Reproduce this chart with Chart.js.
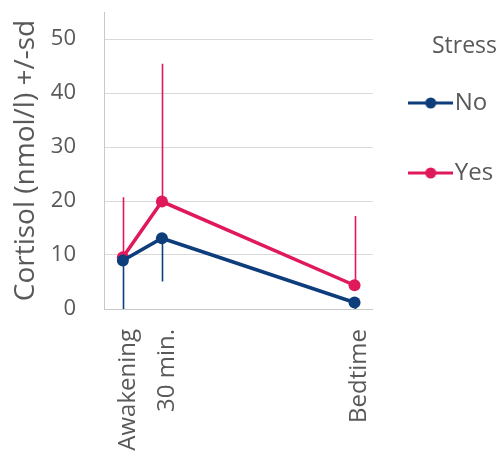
<!DOCTYPE html>
<html>
<head>
<meta charset="utf-8">
<script src="https://cdn.jsdelivr.net/npm/chart.js@4/dist/chart.umd.min.js"></script>
<style>
  html, body { margin: 0; padding: 0; background: #ffffff; }
  #wrap { width: 497px; height: 453px; position: relative; }
</style>
</head>
<body>
<div id="wrap"><canvas id="c" width="497" height="453"></canvas></div>
<script>
// ---- data ----
const categories = ['Awakening', '30 min.', 'Bedtime'];
const timePoints = [0, 30, 178];          // position of each sampling moment on the x axis
const noMean  = [9.0, 13.1, 1.2];
const noSd    = [9.5, 8.0, 2.5];
const yesMean = [9.6, 19.9, 4.4];
const yesSd   = [11.1, 25.5, 12.8];
const yTicks  = [0, 10, 20, 30, 40, 50];
const seriesNames = ['No', 'Yes'];

const FONT = "'Open Sans', 'Segoe UI', sans-serif";
const GREY = '#595959';
const NO_COL = '#0d3d7b';
const YES_COL = '#e0195a';

function markerCanvas(color) {
  const c = document.createElement('canvas');
  c.width = 45; c.height = 14;
  const g = c.getContext('2d');
  g.strokeStyle = color; g.lineWidth = 3;
  g.beginPath(); g.moveTo(0, 7); g.lineTo(45, 7); g.stroke();
  g.fillStyle = color;
  g.beginPath(); g.arc(22.5, 7, 5.5, 0, Math.PI * 2); g.fill();
  return c;
}

const errorBars = {
  id: 'errorBars',
  beforeDatasetsDraw(chart) {
    const {ctx, chartArea, scales} = chart;
    ctx.save();
    ctx.beginPath();
    ctx.rect(chartArea.left, chartArea.top, chartArea.right - chartArea.left, chartArea.bottom - chartArea.top);
    ctx.clip();
    chart.data.datasets.forEach(ds => {
      ctx.strokeStyle = ds.borderColor;
      ctx.lineWidth = 1.6;
      ds.data.forEach((p, i) => {
        const x = scales.x.getPixelForValue(p.x);
        const y0 = scales.y.getPixelForValue(p.y);
        const y1 = scales.y.getPixelForValue(p.y + ds.errorDir * ds.sd[i]);
        ctx.beginPath();
        ctx.moveTo(Math.round(x) + 0.5, y0);
        ctx.lineTo(Math.round(x) + 0.5, y1);
        ctx.stroke();
      });
    });
    ctx.restore();
  }
};

const toPoints = arr => arr.map((v, i) => ({x: timePoints[i], y: v}));

new Chart(document.getElementById('c'), {
  type: 'line',
  data: {
    datasets: [
      { label: seriesNames[0], data: toPoints(noMean), sd: noSd, errorDir: -1,
        borderColor: NO_COL, backgroundColor: NO_COL, borderWidth: 3.5,
        pointRadius: 6, pointBorderWidth: 0, pointBackgroundColor: NO_COL, tension: 0 },
      { label: seriesNames[1], data: toPoints(yesMean), sd: yesSd, errorDir: 1,
        borderColor: YES_COL, backgroundColor: YES_COL, borderWidth: 3.5,
        pointRadius: 6, pointBorderWidth: 0, pointBackgroundColor: YES_COL, tension: 0 }
    ]
  },
  options: {
    responsive: false,
    animation: false,
    events: [],
    layout: { padding: { top: 12, right: 0, bottom: 0, left: 0 } },
    scales: {
      x: {
        type: 'linear',
        min: -14.5, max: 192,
        afterBuildTicks: s => { s.ticks = timePoints.map(v => ({value: v})); },
        afterFit: s => { s.height = 144; s.paddingLeft = 0; s.paddingRight = 0; },
        grid: { display: false, drawTicks: false },
        border: { display: true, color: '#c8c8c8', width: 1 },
        ticks: {
          autoSkip: false, minRotation: 90, maxRotation: 90, padding: 20, labelOffset: 5,
          color: GREY, font: { family: FONT, size: 24 },
          callback: v => categories[timePoints.indexOf(v)]
        }
      },
      y: {
        min: 0, max: 55,
        afterBuildTicks: s => { s.ticks = yTicks.map(v => ({value: v})); },
        afterFit: s => { s.width = 104; s.paddingTop = 0; s.paddingBottom = 0; },
        grid: { color: '#d9d9d9', lineWidth: 1, drawTicks: false },
        border: { display: true, color: '#c8c8c8', width: 1 },
        ticks: { padding: 28, color: GREY, font: { family: FONT, size: 22, lineHeight: 1 } },
        title: { display: true, text: 'Cortisol (nmol/l) +/-sd', color: GREY,
                 font: { family: FONT, size: 28, lineHeight: 1.2 }, padding: { top: 9, bottom: 0 } }
      }
    },
    plugins: {
      legend: {
        position: 'right', align: 'start',
        title: { display: true, text: 'Stress', position: 'end', color: GREY,
                 font: { family: FONT, size: 23, lineHeight: 1 }, padding: { top: 22.5, bottom: -12.5 } },
        labels: {
          usePointStyle: true, pointStyleWidth: 24, padding: 46,
          color: GREY, font: { family: FONT, size: 24 },
          generateLabels(chart) {
            const items = Chart.defaults.plugins.legend.labels.generateLabels(chart);
            items.forEach(it => {
              it.pointStyle = markerCanvas(chart.data.datasets[it.datasetIndex].borderColor);
            });
            return items;
          }
        }
      },
      tooltip: { enabled: false }
    }
  },
  plugins: [errorBars]
});
</script>
</body>
</html>
